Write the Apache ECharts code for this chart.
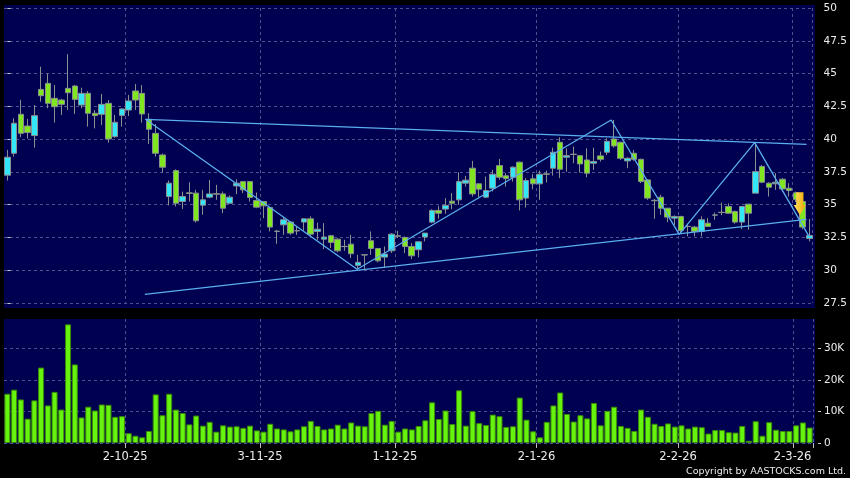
<!DOCTYPE html>
<html><head><meta charset="utf-8">
<script src="https://cdn.jsdelivr.net/npm/echarts@6/dist/echarts.min.js"></script>
<style>html,body{margin:0;padding:0;background:#000;}#c{width:850px;height:478px;}</style>
</head><body><div id="c"></div>
<script>
// Trading days (d-m-yy)
const dates = [
'5-9-25','8-9-25','9-9-25','10-9-25','11-9-25','12-9-25','15-9-25','16-9-25','17-9-25','18-9-25','19-9-25','22-9-25','23-9-25','24-9-25','25-9-25','26-9-25','29-9-25','30-9-25',
'2-10-25','3-10-25','6-10-25','8-10-25','9-10-25','10-10-25','13-10-25','14-10-25','15-10-25','16-10-25','17-10-25','20-10-25','21-10-25','22-10-25','23-10-25','24-10-25','27-10-25','28-10-25','30-10-25','31-10-25',
'3-11-25','4-11-25','5-11-25','6-11-25','7-11-25','10-11-25','11-11-25','12-11-25','13-11-25','14-11-25','17-11-25','18-11-25','19-11-25','20-11-25','21-11-25','24-11-25','25-11-25','26-11-25','27-11-25','28-11-25',
'1-12-25','2-12-25','3-12-25','4-12-25','5-12-25','8-12-25','9-12-25','10-12-25','11-12-25','12-12-25','15-12-25','16-12-25','17-12-25','18-12-25','19-12-25','22-12-25','23-12-25','24-12-25','29-12-25','30-12-25','31-12-25',
'2-1-26','5-1-26','6-1-26','7-1-26','8-1-26','9-1-26','12-1-26','13-1-26','14-1-26','15-1-26','16-1-26','19-1-26','20-1-26','21-1-26','22-1-26','23-1-26','26-1-26','27-1-26','28-1-26','29-1-26','30-1-26',
'2-2-26','3-2-26','4-2-26','5-2-26','6-2-26','9-2-26','10-2-26','11-2-26','12-2-26','13-2-26','16-2-26','20-2-26','23-2-26','24-2-26','25-2-26','26-2-26','27-2-26',
'2-3-26','3-3-26','4-3-26'];

const tickLabels = ['2-10-25','3-11-25','1-12-25','2-1-26','2-2-26','2-3-26'];
const priceTicks = [27.5, 50, 2.5];   // min, max, step
const volumeTicks = [0, 39.3, 10];    // thousands

const opens = [
37.25,38.92,41.89,41.00,40.27,43.79,44.25,43.11,42.98,43.87,44.05,42.60,43.49,41.97,41.89,42.73,40.19,41.81,42.22,43.67,
43.49,41.51,40.44,38.79,35.62,37.60,35.24,35.90,35.88,34.96,35.57,35.84,35.82,35.11,36.43,36.76,36.76,35.32,35.24,34.78,
32.98,33.46,33.67,33.02,33.67,33.92,32.96,32.37,32.63,32.37,31.82,31.99,30.37,31.18,32.25,31.66,31.00,31.48,32.63,32.50,
31.81,31.56,32.53,33.67,34.56,34.66,35.27,35.37,36.64,37.78,36.59,35.57,36.26,37.98,37.20,37.09,38.24,35.50,36.97,36.59,
37.35,37.78,39.76,38.62,38.85,38.74,38.41,38.16,38.72,39.00,40.01,39.76,38.34,38.92,38.46,36.89,35.33,35.57,34.73,33.97,
34.10,33.35,33.29,32.96,33.59,34.20,34.40,34.86,34.48,33.67,35.04,35.88,37.91,36.64,36.59,36.94,36.26,35.90,35.24,32.42];
const closes = [
38.62,41.21,40.44,40.50,41.79,43.31,42.73,42.47,42.65,43.54,43.03,43.49,41.97,41.79,42.65,40.01,41.28,42.30,42.91,42.98,
41.92,40.75,38.92,37.86,36.64,35.11,35.62,35.86,33.77,35.37,35.82,35.80,34.73,35.57,36.64,36.13,35.55,34.81,34.91,33.29,
32.95,33.85,32.83,33.00,33.92,32.75,33.13,32.53,32.12,31.48,31.80,31.26,30.60,31.16,31.66,30.72,31.23,32.75,32.60,31.81,
31.10,32.17,32.83,34.56,34.35,34.94,35.11,36.76,36.87,35.82,36.18,36.08,37.32,37.09,36.99,37.86,35.37,36.84,36.59,37.32,
37.32,39.00,37.70,38.74,38.83,38.11,37.40,38.29,38.46,39.83,39.48,38.54,38.54,38.46,36.76,35.50,35.30,34.73,34.05,34.10,
33.03,33.33,32.96,33.85,33.34,34.22,34.42,34.35,33.67,34.86,34.35,37.52,36.71,36.33,36.71,36.20,36.08,35.40,33.29,32.65];
const lows = [
36.84,38.67,40.14,40.04,39.35,42.86,42.35,41.26,41.84,42.22,41.92,42.35,40.95,40.82,41.08,39.73,40.10,40.95,41.76,42.22,
41.26,39.63,38.67,37.45,34.94,34.86,34.68,35.24,33.64,34.23,35.50,35.37,34.35,35.06,35.80,35.88,35.24,34.73,33.97,32.96,
32.02,32.70,32.70,32.70,33.03,32.58,32.32,31.61,31.69,31.36,31.48,30.93,30.09,30.10,31.18,30.60,30.17,31.31,32.45,31.31,
30.85,30.98,32.20,33.59,33.92,34.30,34.66,34.99,36.38,35.62,35.55,35.50,36.00,36.89,36.38,36.76,34.56,34.78,36.18,35.37,
36.69,37.22,37.02,37.52,38.16,37.45,37.09,37.65,38.29,38.79,39.35,38.41,37.78,38.34,36.64,35.37,33.92,34.23,33.67,33.46,
32.83,32.58,32.58,32.58,33.30,33.85,34.20,34.30,33.54,33.13,33.08,35.88,36.64,35.62,36.13,36.00,35.62,35.20,33.13,32.20];
const highs = [
39.18,41.59,43.00,41.54,42.60,45.52,45.01,44.12,43.06,46.48,44.12,43.92,43.67,42.22,43.44,42.98,41.84,42.35,43.36,44.20,
44.12,41.97,41.15,38.90,36.84,37.70,36.00,36.71,36.13,36.13,36.89,36.51,36.00,35.70,36.94,36.76,36.76,35.93,35.24,34.86,
33.08,34.05,33.72,33.34,33.95,34.10,33.64,33.59,32.70,32.45,32.32,32.70,31.18,31.20,32.96,31.66,31.81,32.83,33.00,32.58,
32.07,32.20,32.85,34.65,34.91,35.50,35.88,37.47,37.20,38.34,36.64,37.14,37.65,38.49,37.40,37.91,38.29,37.02,37.32,37.60,
37.60,39.35,40.14,39.30,39.43,38.79,39.30,39.35,39.05,40.06,41.46,39.80,38.60,39.17,38.50,36.94,35.44,35.75,34.73,34.18,
34.15,33.54,33.39,34.10,33.97,34.40,35.16,35.10,34.56,34.91,35.04,39.73,38.03,36.71,37.40,37.02,36.64,36.00,35.30,33.92];
// volume in thousands
const volumes = [
15.6,16.9,13.8,7.7,13.5,23.9,11.9,16.2,10.6,37.6,24.9,8.1,11.5,10.3,12.2,12.1,8.3,8.5,3.1,2.3,
1.8,3.8,15.4,8.8,15.6,10.6,9.5,5.9,8.7,5.5,6.7,3.6,5.6,5.2,5.3,4.8,5.5,4.0,3.6,6.1,
4.6,4.3,3.7,4.3,5.3,7.0,5.4,4.3,4.6,5.8,4.6,6.5,5.5,5.3,9.5,10.2,5.8,7.0,3.6,4.6,
4.3,5.4,7.2,12.9,7.6,10.3,6.0,16.7,5.5,10.1,6.3,5.7,9.0,8.5,5.1,5.3,14.4,7.4,3.7,1.8,
6.7,11.9,16.0,9.2,6.8,8.8,7.8,12.7,5.6,10.2,11.5,5.4,4.8,3.8,10.6,8.3,6.1,5.4,6.2,5.2,
5.6,4.6,5.2,5.0,3.0,4.1,4.1,3.4,3.3,5.4,0.7,6.9,2.3,6.6,4.2,3.8,3.8,5.6,6.5,4.9];

// Drawn trend lines: [bar index, price]
const resistanceLine = [[20.5, 41.51], [118.6, 39.60]];
const supportLine = [[20.4, 28.16], [118.6, 33.88]];
const swingLine = [[20.5, 41.51], [51.9, 30.07], [89.6, 41.46], [99.7, 32.74], [110.9, 39.73], [119.05, 32.50]];
const signalArrow = [[117.6, 35.08]];

const candles = opens.map((o, i) => [o, closes[i], lows[i], highs[i]]);
const isTick = (idx, val) => tickLabels.indexOf(val) >= 0;
const FONT = 'DejaVu Sans';
const gridLine = { show: true, lineStyle: { color: '#50508e', type: [3, 3], width: 1 } };
const trend = { color: '#5aaeee', width: 1.3 };

const chart = echarts.init(document.getElementById('c'), null, { renderer: 'canvas' });
chart.setOption({
  backgroundColor: '#000000',
  animation: false,
  textStyle: { fontFamily: FONT },
  graphic: [
    { type: 'rect', z: -10, silent: true, shape: { x: 4, y: 5, width: 811, height: 303 }, style: { fill: '#000050' } },
    { type: 'rect', z: -10, silent: true, shape: { x: 4, y: 319, width: 811, height: 125 }, style: { fill: '#000050' } },
    { type: 'text', x: 846, y: 472, style: { text: 'Copyright by AASTOCKS.com Ltd.', fill: '#ececec', font: '9.5px "DejaVu Sans"', textAlign: 'right', textVerticalAlign: 'middle' } }
  ],
  grid: [
    { left: 4, top: 8, width: 809, height: 295 },
    { left: 4, top: 319, width: 809, height: 124 }
  ],
  xAxis: [
    { type: 'category', gridIndex: 0, data: dates, boundaryGap: true,
      axisLine: { show: false }, axisTick: { show: false }, axisLabel: { show: false },
      splitLine: Object.assign({ interval: isTick }, gridLine) },
    { type: 'category', gridIndex: 1, data: dates, boundaryGap: true,
      axisLine: { show: false },
      axisTick: { show: true, interval: isTick, length: 5, lineStyle: { color: '#bbbbbb' } },
      axisLabel: { interval: isTick, color: '#ececec', fontSize: 11.5, margin: 8, padding: [0, 7, 0, 0], fontFamily: FONT },
      splitLine: Object.assign({ interval: isTick }, gridLine) },
    { type: 'value', gridIndex: 0, min: -0.5, max: 119.5, show: false }
  ],
  yAxis: [
    { type: 'value', gridIndex: 0, position: 'right', offset: 5, min: priceTicks[0], max: priceTicks[1], interval: priceTicks[2],
      axisLine: { show: false }, axisTick: { show: true, length: 3, lineStyle: { color: '#cccccc' } },
      axisLabel: { color: '#ececec', fontSize: 10.5, margin: 6, fontFamily: FONT },
      splitLine: gridLine },
    { type: 'value', gridIndex: 1, position: 'right', offset: 5, min: volumeTicks[0], max: volumeTicks[1], interval: volumeTicks[2],
      axisLine: { show: false }, axisTick: { show: true, length: 3, lineStyle: { color: '#cccccc' } },
      axisLabel: { color: '#ececec', fontSize: 10.5, margin: 6, fontFamily: FONT, showMaxLabel: false,
        formatter: v => v === 0 ? '0' : (v + 'K') },
      splitLine: Object.assign({ showMaxLine: false }, gridLine) }
  ],
  series: [
    { type: 'candlestick', xAxisIndex: 0, yAxisIndex: 0, data: candles, barWidth: 6,
      itemStyle: { color: '#33e6f8', color0: '#80e620', borderColor: '#8a8f8f', borderColor0: '#8a8f8f', borderWidth: 1 } },
    { type: 'bar', xAxisIndex: 1, yAxisIndex: 1, data: volumes, barWidth: 6,
      itemStyle: { color: '#66f40e', borderColor: '#3b8a08', borderWidth: 1 } },
    { type: 'line', xAxisIndex: 2, yAxisIndex: 0, data: resistanceLine, symbol: 'none', lineStyle: trend, z: 5 },
    { type: 'line', xAxisIndex: 2, yAxisIndex: 0, data: supportLine, symbol: 'none', lineStyle: trend, z: 5 },
    { type: 'line', xAxisIndex: 2, yAxisIndex: 0, data: swingLine, symbol: 'none', lineStyle: trend, z: 5 },
    { type: 'scatter', xAxisIndex: 2, yAxisIndex: 0, data: signalArrow, z: 6,
      symbol: 'path://M2.5,0L9.8,0L9.8,12.7L12.3,12.7L6.15,22.7L0,12.7L2.5,12.7Z', symbolSize: [12.3, 22.7],
      itemStyle: { opacity: 1, color: new echarts.graphic.LinearGradient(0, 0, 1, 0, [{ offset: 0, color: '#ffe066' }, { offset: 1, color: '#f2a900' }]) } }
  ]
});
</script></body></html>
